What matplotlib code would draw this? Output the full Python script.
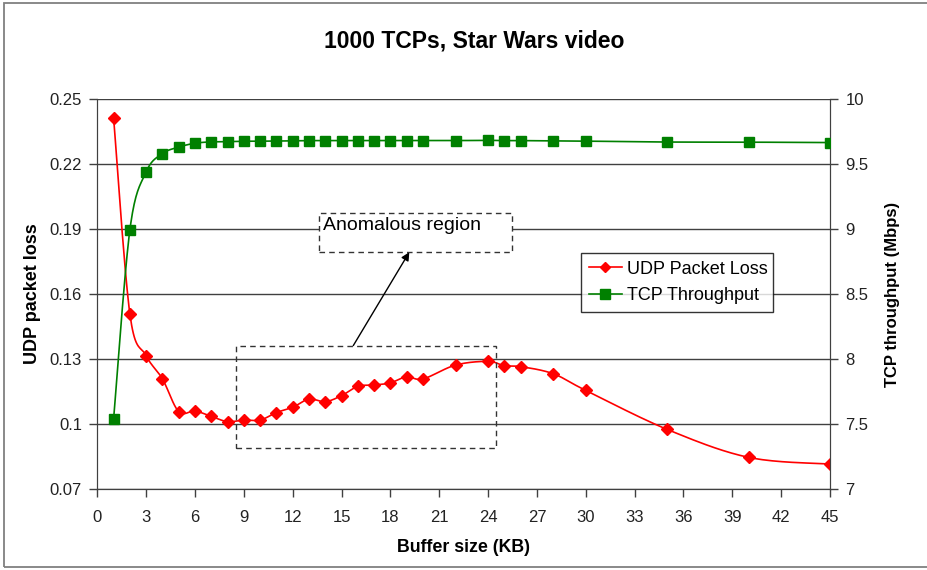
import numpy as np
import matplotlib
matplotlib.use("Agg")
import matplotlib.pyplot as plt
import matplotlib.patches as mpatches
from matplotlib.lines import Line2D

buffer_kb = [1, 2, 3, 4, 5, 6, 7, 8, 9, 10, 11, 12, 13, 14, 15, 16, 17, 18, 19, 20,
             22, 24, 25, 26, 28, 30, 35, 40, 45]
udp_loss = [0.2412, 0.1507, 0.1315, 0.1208, 0.1057, 0.1060, 0.1035, 0.1011, 0.1018, 0.1018,
            0.1053, 0.1077, 0.1115, 0.1103, 0.1131, 0.1174, 0.1180, 0.1190, 0.1218, 0.1208,
            0.1272, 0.1289, 0.1269, 0.1265, 0.1232, 0.1155, 0.0975, 0.0846, 0.0815]
tcp_tput = [7.54, 8.995, 9.44, 9.58, 9.63, 9.66, 9.67, 9.672, 9.675, 9.675,
            9.677, 9.678, 9.68, 9.68, 9.68, 9.68, 9.68, 9.68, 9.68, 9.68,
            9.68, 9.682, 9.68, 9.68, 9.678, 9.676, 9.669, 9.668, 9.665]

left_ticks = [0.07, 0.1, 0.13, 0.16, 0.19, 0.22, 0.25]
left_labels = ["0.07", "0.1", "0.13", "0.16", "0.19", "0.22", "0.25"]
right_ticks = [7, 7.5, 8, 8.5, 9, 9.5, 10]
right_labels = ["7", "7.5", "8", "8.5", "9", "9.5", "10"]
x_ticks = list(range(0, 46, 3))

RED = "#ff0000"
GREEN = "#008000"


def smooth(x, y, xspan, yspan, n=20):
    # Excel-style smoothed line (Catmull-Rom), done in normalised units
    px = np.asarray(x, float) / xspan
    py = np.asarray(y, float) / yspan
    pts = np.column_stack([px, py])
    pts = np.vstack([pts[0], pts, pts[-1]])
    out = []
    for i in range(1, len(pts) - 2):
        p0, p1, p2, p3 = pts[i - 1], pts[i], pts[i + 1], pts[i + 2]
        t = np.linspace(0, 1, n)[:, None]
        seg = 0.5 * ((2 * p1) + (-p0 + p2) * t + (2 * p0 - 5 * p1 + 4 * p2 - p3) * t ** 2
                     + (-p0 + 3 * p1 - 3 * p2 + p3) * t ** 3)
        out.append(seg)
    out = np.vstack(out)
    return out[:, 0] * xspan, out[:, 1] * yspan


def main():
    plt.rcParams['font.family'] = ['Liberation Sans', 'DejaVu Sans']

    fig = plt.figure(figsize=(9.27, 5.70), dpi=100)
    ax = fig.add_axes([0.1050, 0.1421, 0.7904, 0.6842])
    ax2 = ax.twinx()

    # gray frame round the chart area
    fig.patches.append(mpatches.Rectangle((4 / 927, 1 - 567 / 570), 1.2, 564 / 570,
                                          transform=fig.transFigure, fill=False,
                                          edgecolor="#808080", linewidth=1.3))

    ax.set_xlim(0, 45)
    ax.set_ylim(0.07, 0.25)
    ax2.set_ylim(7, 10)

    for t in left_ticks:
        ax.axhline(t, color="#404040", linewidth=1.0, zorder=1)

    sx, sy = smooth(buffer_kb, udp_loss, 45, 0.18)
    ax.plot(sx, sy, color=RED, linewidth=1.2, zorder=3)
    ax.plot(buffer_kb, udp_loss, linestyle="none", marker="D", markersize=6,
            color=RED, zorder=4)

    gx, gy = smooth(buffer_kb, tcp_tput, 45, 3.0)
    ax2.plot(gx, gy, color=GREEN, linewidth=1.2, zorder=3)
    ax2.plot(buffer_kb, tcp_tput, linestyle="none", marker="s", markersize=6.5,
             color=GREEN, zorder=4)

    ax.set_xticks(x_ticks)
    ax.set_xticklabels([str(v) for v in x_ticks], fontsize=12, color="#222222")
    ax.set_yticks(left_ticks)
    ax.set_yticklabels(left_labels, fontsize=12, color="#222222")
    ax2.set_yticks(right_ticks)
    ax2.set_yticklabels(right_labels, fontsize=12, color="#222222")
    for a in (ax, ax2):
        a.tick_params(direction="out", length=6, width=1, color="#404040", pad=5)
        for s in a.spines.values():
            s.set_color("#404040")
        a.spines["top"].set_visible(False)
    ax.tick_params(axis="x", pad=9)

    ax.set_ylabel("UDP packet loss", fontsize=13, fontweight="bold", labelpad=6)
    ax2.set_ylabel("TCP throughput (Mbps)", fontsize=12, fontweight="bold", labelpad=12)
    ax.set_xlabel("Buffer size (KB)", fontsize=12.8, fontweight="bold", labelpad=10)
    fig.text(474 / 927, 1 - 41 / 570, "1000 TCPs, Star Wars video", fontsize=16.5,
             fontweight="bold", ha="center", va="center")

    # anomalous region box, label and arrow
    ax.add_patch(mpatches.Rectangle((8.5, 0.0888), 16.0, 0.0474, fill=False,
                                    linestyle=(0, (4, 3)), edgecolor="#333333",
                                    linewidth=1.0, zorder=5))
    ax.add_patch(mpatches.Rectangle((13.62, 0.1793), 11.87, 0.0182, facecolor="white",
                                    linestyle=(0, (4, 3)), edgecolor="#333333",
                                    linewidth=1.0, zorder=5))
    ax.text(13.85, 0.1914, "Anomalous region", fontsize=14, ha="left", va="center",
            zorder=6)
    ax.annotate("", xy=(19.16, 0.1793), xytext=(15.72, 0.1362),
                arrowprops=dict(arrowstyle="-|>", color="black", lw=1.0,
                                mutation_scale=12, shrinkA=0, shrinkB=0), zorder=6)

    handles = [Line2D([], [], color=RED, marker="D", markersize=5.5, linewidth=1.2),
               Line2D([], [], color=GREEN, marker="s", markersize=6.5, linewidth=1.2)]
    leg = ax2.legend(handles, ["UDP Packet Loss", "TCP Throughput"], loc="lower left",
                     bbox_to_anchor=(0.66, 0.454, 0.2615, 0.15), mode="expand",
                     fontsize=13, frameon=True, fancybox=False, borderpad=0.45,
                     handlelength=1.8, handletextpad=0.3, labelspacing=0.5,
                     borderaxespad=0)
    leg.get_frame().set_edgecolor("black")
    leg.get_frame().set_linewidth(1.0)
    leg.set_zorder(10)

    plt.savefig("out.png", dpi=100)


if __name__ == "__main__":
    main()
